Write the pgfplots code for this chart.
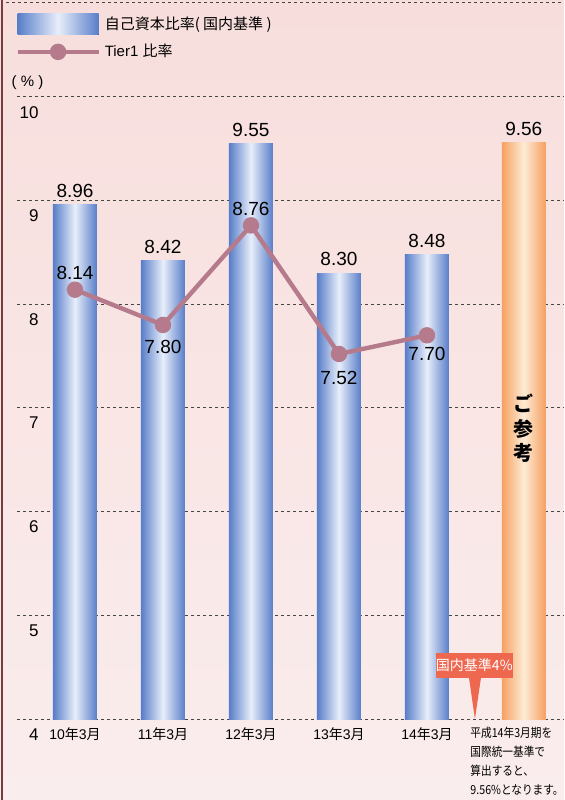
\documentclass[border=0pt]{standalone}
\usepackage{pgfplots}
\pgfplotsset{compat=1.18}
\usepackage{fontspec}
\setmainfont{Liberation Sans}
\newfontfamily\cjk{Noto Sans CJK JP}
\newfontfamily\cjkn{Noto Sans CJK JP}[FakeStretch=0.86]
\definecolor{barblue}{RGB}{88,126,201}
\definecolor{barlight}{RGB}{232,238,250}
\definecolor{barorange}{RGB}{246,160,96}
\definecolor{orangelight}{RGB}{253,236,214}
\definecolor{mauve}{RGB}{181,122,139}
\definecolor{callout}{RGB}{238,104,80}
\definecolor{gridc}{RGB}{70,70,70}
\definecolor{bgtop}{RGB}{247,222,220}
\definecolor{bgbot}{RGB}{250,237,237}
\definecolor{leftline}{RGB}{120,60,60}
\begin{document}
\begin{tikzpicture}
\shade[top color=bgtop, bottom color=bgbot] (0,0) rectangle (282pt,400pt);
\draw[leftline, line width=0.6pt] (1pt,0) -- (1pt,400pt);
\begin{axis}[
  at={(8.5pt,40.5pt)}, anchor=south west,
  scale only axis, width=273.5pt, height=358.5pt,
  xmin=-0.659, xmax=5.557, ymin=4, ymax=10.914,
  axis line style={draw=none}, tick style={draw=none},
  clip=false,
  ytick={4,5,6,7,8,9,10},
  ymajorgrids,
  grid style={gridc, line width=0.5pt, dash pattern=on 1.5pt off 1.5pt},
  /pgf/number format/assume math mode=true,
  yticklabel style={anchor=north east, inner sep=0pt, xshift=11pt, yshift=-4.5pt, font=\fontsize{8.5}{10}\selectfont},
  xtick={0,1,2,3,4},
  xticklabels={{10{\cjk 年}3{\cjk 月}},{11{\cjk 年}3{\cjk 月}},{12{\cjk 年}3{\cjk 月}},{13{\cjk 年}3{\cjk 月}},{14{\cjk 年}3{\cjk 月}}},
  xticklabel style={anchor=north, inner sep=0pt, yshift=-4pt, font=\fontsize{7}{8}\selectfont},
  legend style={at={(rel axis cs:0,1)}, anchor=north west, xshift=-4pt, yshift=-3pt, draw=none, fill=none,
    font=\fontsize{7.5}{9}\selectfont, row sep=2pt,
    /tikz/every even column/.append style={column sep=2pt}},
  legend cell align=left,
  bluebar/.style={ybar, bar width=22pt, draw=none, left color=barblue, right color=barblue, middle color=barlight},
]
\draw[gridc, line width=0.5pt, dash pattern=on 1.5pt off 1.5pt] (rel axis cs:-0.02,1) -- (rel axis cs:1,1);

\addplot[bluebar,
  legend image code/.code={\fill[left color=barblue, right color=barblue, middle color=barlight] (0pt,-5.25pt) rectangle (40.5pt,5.25pt);}]
  coordinates {(0,8.96)};
\addlegendentry{{\cjk 自己資本比率( 国内基準 )}}
\addplot[bluebar, forget plot] coordinates {(1,8.42)};
\addplot[bluebar, forget plot] coordinates {(2,9.55)};
\addplot[bluebar, forget plot] coordinates {(3,8.30)};
\addplot[bluebar, forget plot] coordinates {(4,8.48)};

\addplot[ybar, bar width=22pt, draw=none, left color=barorange, right color=barorange, middle color=orangelight, forget plot]
  coordinates {(5.1,9.56)};

\addplot[mauve, line width=2.2pt, mark=*, mark size=3pt, mark options={solid, fill=mauve},
  legend image code/.code={\draw[mauve, line width=2.2pt] (0pt,0pt) -- (40.5pt,0pt); \fill[mauve] (20.25pt,0pt) circle (3pt);}]
  coordinates {(0,8.14) (1,7.80) (2,8.76) (3,7.52) (4,7.70)};
\addlegendentry{Tier1 {\cjk 比率}}

% bar value labels
\addplot[draw=none, forget plot, nodes near coords, point meta=explicit symbolic,
  every node near coord/.append style={anchor=south, text=black, font=\fontsize{9.5}{11}\selectfont}]
  table[x=x, y=y, meta=lab] {
x y lab
0 8.96 8.96
1 8.42 8.42
2 9.55 9.55
3 8.30 8.30
4 8.48 8.48
5.1 9.56 9.56
};

% line value labels
\addplot[draw=none, forget plot, nodes near coords, point meta=explicit symbolic,
  visualization depends on={value \thisrow{a} \as \anc},
  visualization depends on={\thisrow{dy} \as \dy},
  every node near coord/.append style={anchor=\anc, yshift=\dy pt, text=black, font=\fontsize{9.5}{11}\selectfont}]
  table[x=x, y=y, meta=lab] {
x y lab a dy
0 8.14 8.14 south 1.5
1 7.80 7.80 north -4
2 8.76 8.76 south 1.5
3 7.52 7.52 north -5
4 7.70 7.70 north -2.5
};

\node[font=\fontsize{7.5}{9}\selectfont] at (axis cs:-0.54,10.135) {(\;\%\;)};

\node[font=\cjk\bfseries\fontsize{10}{12.25}\selectfont, align=center] at (axis cs:5.1,6.8) {ご\\参\\考};

\fill[callout] (axis cs:4.545,4) -- (axis cs:4.477,4.40) -- (axis cs:4.614,4.40) -- cycle;
\node[fill=callout, text=white, inner sep=0pt, minimum width=37.5pt, minimum height=12.5pt, font=\cjk\fontsize{7}{8}\selectfont] at (axis cs:4.538,4.515) {国内基準4\%};

\node[anchor=north west, align=left, inner sep=0pt, font=\cjkn\fontsize{6.2}{9.5}\selectfont] at (axis cs:4.49,4) [yshift=-4pt] {平成14年3月期を\\国際統一基準で\\算出すると、\\9.56\%となります。};
\end{axis}
\pgfresetboundingbox
\useasboundingbox (0,0) rectangle (282pt,400pt);
\end{tikzpicture}
\end{document}
